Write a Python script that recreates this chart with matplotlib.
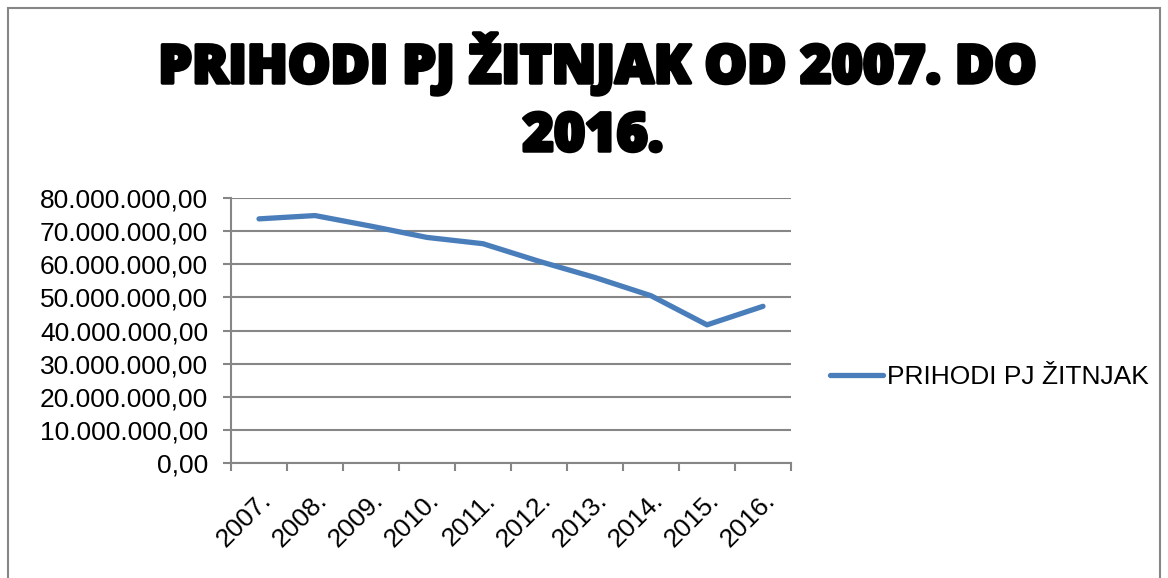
import numpy as np
import matplotlib.pyplot as plt
import matplotlib.patheffects as pe
from matplotlib.ticker import FuncFormatter, MultipleLocator

# data
years = ['2007.', '2008.', '2009.', '2010.', '2011.', '2012.', '2013.', '2014.', '2015.', '2016.']
prihodi = [73.7e6, 74.7e6, 71.5e6, 68.1e6, 66.2e6, 60.9e6, 56.0e6, 50.5e6, 41.7e6, 47.3e6]

title_1 = 'PRIHODI PJ ŽITNJAK OD 2007. DO'
title_2 = '2016.'
series_name = 'PRIHODI PJ ŽITNJAK'

line_color = '#4A7EBB'
grid_color = '#868686'


def hr_format(v, pos):
    s = '{:,.2f}'.format(v)
    return s.replace(',', 'X').replace('.', ',').replace('X', '.')


plt.rcParams['font.family'] = ['Liberation Sans', 'DejaVu Sans']

fig = plt.figure(figsize=(11.68, 5.78), dpi=100)
ax = fig.add_axes([231 / 1168, 1 - 463 / 578, 560 / 1168, 265 / 578])

# chart border
fig.patches.append(plt.Rectangle((8 / 1168, -0.1), 1152 / 1168, 1.1 - 8 / 578,
                                 transform=fig.transFigure, fill=False,
                                 edgecolor=grid_color, linewidth=1.5))

x = np.arange(len(years))
ax.plot(x, prihodi, color=line_color, linewidth=3.8, solid_capstyle='round',
        label=series_name)

ax.set_xlim(-0.5, len(years) - 0.5)
ax.set_ylim(0, 80e6)
ax.yaxis.set_major_locator(MultipleLocator(10e6))
ax.yaxis.set_major_formatter(FuncFormatter(hr_format))
ax.grid(axis='y', color=grid_color, linewidth=1.5)
ax.set_axisbelow(True)

ax.set_xticks(np.arange(len(years) + 1) - 0.5)
ax.set_xticklabels([])
ax.set_xticks(x, minor=True)
ax.set_xticklabels(years, minor=True, rotation=45, ha='right', rotation_mode='anchor',
                   fontsize=19)
ax.tick_params(axis='x', which='minor', length=0, pad=18)
ax.tick_params(axis='x', which='major', length=5.5, width=1.5, color=grid_color)
ax.tick_params(axis='y', length=5.5, width=1.5, color=grid_color, labelsize=19, pad=11)

for side in ['top', 'right']:
    ax.spines[side].set_visible(False)
for side in ['left', 'bottom']:
    ax.spines[side].set_color(grid_color)
    ax.spines[side].set_linewidth(1.5)

title_kw = dict(ha='center', va='baseline', fontsize=38.5, fontweight='heavy',
                family=['Open Sans', 'DejaVu Sans'],
                path_effects=[pe.withStroke(linewidth=2.5, foreground='black')])
fig.text(598 / 1168, 1 - 83 / 578, title_1, **title_kw)
fig.text(593 / 1168, 1 - 151 / 578, title_2, **title_kw)

ax.legend(loc='center left', bbox_to_anchor=(830 / 1168, 1 - 377 / 578),
          bbox_transform=fig.transFigure, frameon=False, fontsize=19,
          handlelength=2.0, handletextpad=0.15, borderaxespad=0, borderpad=0)

fig.savefig('out.png', dpi=100)
